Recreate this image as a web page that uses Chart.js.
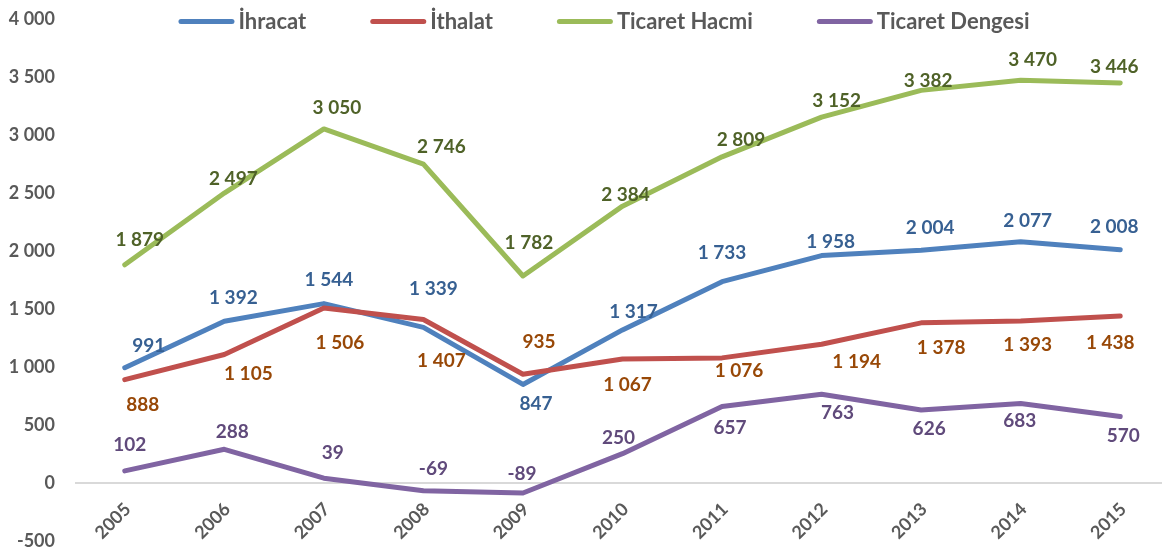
<!DOCTYPE html>
<html>
<head>
<meta charset="utf-8">
<script src="https://cdn.jsdelivr.net/npm/chart.js@4.4.1/dist/chart.umd.min.js"></script>
<style>
  html, body { margin: 0; padding: 0; background: #ffffff; overflow: hidden; }
  #wrap { position: relative; width: 1170px; height: 553px; }
</style>
</head>
<body>
<div id="wrap"><canvas id="c"></canvas></div>
<script>
// ---- data ----
const years = ['2005','2006','2007','2008','2009','2010','2011','2012','2013','2014','2015'];
const ihracat = [991, 1392, 1544, 1339, 847, 1317, 1733, 1958, 2004, 2077, 2008];
const ithalat = [888, 1105, 1506, 1407, 935, 1067, 1076, 1194, 1378, 1393, 1438];
const ticaretHacmi = [1879, 2497, 3050, 2746, 1782, 2384, 2809, 3152, 3382, 3470, 3446];
const ticaretDengesi = [102, 288, 39, -69, -89, 250, 657, 763, 626, 683, 570];
const seriesNames = ['İhracat', 'İthalat', 'Ticaret Hacmi', 'Ticaret Dengesi'];
const yMin = -500, yMax = 4000, yStep = 500;

// ---- label placement (offsets from each point, px) ----
const ihracatLabelOffsets = [[24,-23],[9,-24],[5,-25],[10,-39],[13,19],[11,-19],[0,-30],[9,-15],[9,-23],[7,-22],[-6,-24]];
const ithalatLabelOffsets = [[18,24],[24,18],[16,34],[18,41],[16,-33],[5,25],[17,12],[35,17],[20,24],[7,23],[-10,26]];
const hacmiLabelOffsets = [[15,-26],[9,-15],[13,-22],[18,-18],[6,-34],[3,-12],[19,-18],[15,-17],[7,-10],[12,-21],[-6,-17]];
const dengesiLabelOffsets = [[5,-27],[8,-18],[9,-26],[10,-23],[-1,-20],[-4,-17],[8,21],[16,18],[8,18],[-1,17],[3,18]];

const FONT = 'Lato, "Open Sans", sans-serif';
const GRAY = '#595959';

function fmt(v) {
  const s = String(Math.abs(v)).replace(/\B(?=(\d{3})+(?!\d))/g, ' ');
  return (v < 0 ? '-' : '') + s;
}

function mkDs(label, data, color, labelColor, offsets, order) {
  return {
    label, data,
    borderColor: color, backgroundColor: color,
    borderWidth: 5, pointRadius: 0, pointHoverRadius: 0,
    tension: 0, borderCapStyle: 'round', borderJoinStyle: 'round',
    fill: false, order,
    labelColor, labelOffsets: offsets
  };
}

const datasets = [
  mkDs(seriesNames[0], ihracat, '#4F81BD', '#376092', ihracatLabelOffsets, 4),
  mkDs(seriesNames[1], ithalat, '#C0504D', '#984807', ithalatLabelOffsets, 3),
  mkDs(seriesNames[2], ticaretHacmi, '#9BBB59', '#4F6228', hacmiLabelOffsets, 2),
  mkDs(seriesNames[3], ticaretDengesi, '#8064A2', '#604A7B', dengesiLabelOffsets, 1)
];

const valueLabels = {
  id: 'valueLabels',
  afterDatasetsDraw(chart) {
    const ctx = chart.ctx;
    ctx.save();
    ctx.font = 'bold 19px ' + FONT;
    ctx.textAlign = 'center';
    ctx.textBaseline = 'alphabetic';
    chart.data.datasets.forEach((ds, i) => {
      const meta = chart.getDatasetMeta(i);
      ctx.fillStyle = ds.labelColor;
      meta.data.forEach((pt, j) => {
        const off = ds.labelOffsets[j] || [0, -15];
        ctx.fillText(fmt(ds.data[j]), pt.x + off[0], pt.y + off[1] + 7);
      });
    });
    ctx.restore();
  }
};

const topLegend = {
  id: 'topLegend',
  afterDraw(chart) {
    const ctx = chart.ctx;
    ctx.save();
    ctx.font = 'bold 22px ' + FONT;
    ctx.textBaseline = 'alphabetic';
    ctx.textAlign = 'left';
    const lineW = 56, gapText = 4, gapItem = 64;
    const items = chart.data.datasets.map(ds => ({ text: ds.label, color: ds.borderColor, w: ctx.measureText(ds.label).width }));
    const total = items.reduce((s, it) => s + lineW + gapText + it.w, 0) + gapItem * (items.length - 1);
    let x = 604 - total / 2;
    const yLine = 21.5;
    items.forEach(it => {
      ctx.strokeStyle = it.color;
      ctx.lineWidth = 5;
      ctx.lineCap = 'round';
      ctx.beginPath();
      ctx.moveTo(x + 2.5, yLine);
      ctx.lineTo(x + lineW - 2.5, yLine);
      ctx.stroke();
      ctx.fillStyle = GRAY;
      ctx.fillText(it.text, x + lineW + gapText, yLine + 7.5);
      x += lineW + gapText + it.w + gapItem;
    });
    ctx.restore();
  }
};

new Chart(document.getElementById('c'), {
  type: 'line',
  data: { labels: years, datasets },
  options: {
    responsive: true,
    maintainAspectRatio: false,
    animation: false,
    layout: { padding: { left: 8, right: 0, top: 18.7, bottom: 12.3 } },
    plugins: { legend: { display: false }, tooltip: { enabled: false } },
    scales: {
      x: {
        type: 'category',
        position: { y: 0 },
        offset: true,
        afterFit(scale) { scale.paddingTop = 0; scale.paddingBottom = 0; scale.paddingLeft = 0; scale.paddingRight = 0; },
        grid: { display: false, drawTicks: false },
        border: { display: false },
        ticks: {
          autoSkip: false, minRotation: 45, maxRotation: 45,
          padding: 16, labelOffset: 3, color: GRAY,
          font: { family: FONT, size: 18, weight: 'bold' }
        }
      },
      y: {
        min: yMin, max: yMax,
        afterFit(scale) { scale.width = 67; scale.paddingTop = 0; scale.paddingBottom = 0; },
        grid: {
          drawTicks: false,
          color: c => (c.tick && c.tick.value === 0) ? '#D9D9D9' : 'rgba(0,0,0,0)',
          lineWidth: 2
        },
        border: { display: false },
        ticks: {
          stepSize: yStep, padding: 20, color: GRAY,
          font: { family: FONT, size: 18, weight: 'bold' },
          callback: v => fmt(v)
        }
      }
    }
  },
  plugins: [valueLabels, topLegend]
});
</script>
</body>
</html>
